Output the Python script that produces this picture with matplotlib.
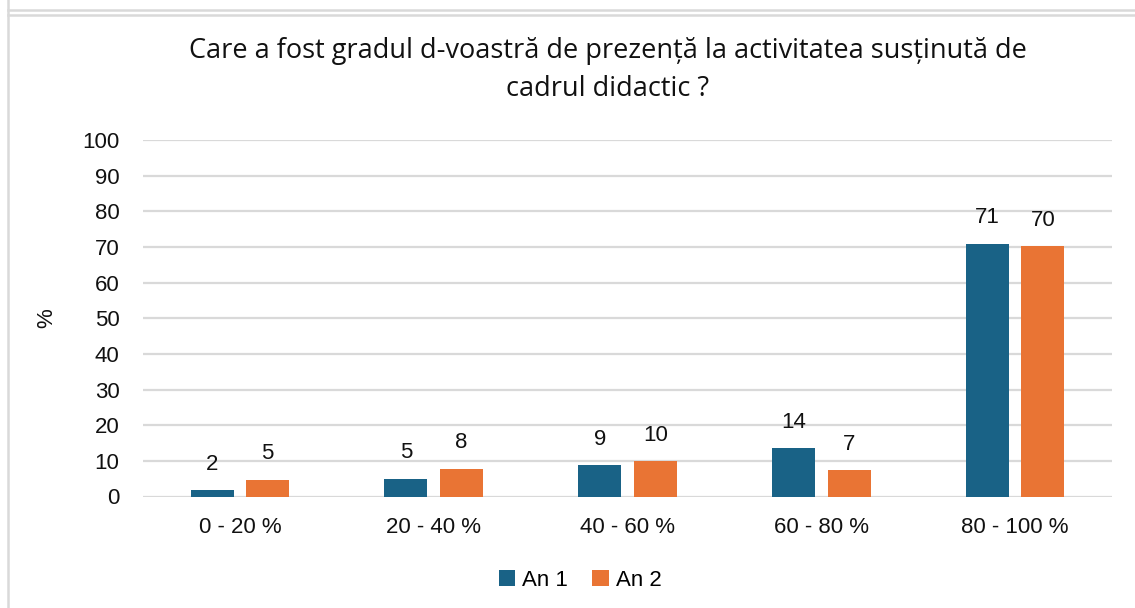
import matplotlib.pyplot as plt
import numpy as np
from matplotlib.lines import Line2D

# Data
categories = ["0 - 20 %", "20 - 40 %", "40 - 60 %", "60 - 80 %", "80 - 100 %"]
an1_values = [1.8, 5.0, 8.7, 13.6, 70.9]
an2_values = [4.7, 7.8, 10.0, 7.3, 70.3]
series_names = ["An 1", "An 2"]
yticks = [0, 10, 20, 30, 40, 50, 60, 70, 80, 90, 100]
title_lines = ["Care a fost gradul d-voastră de prezență la activitatea susținută de",
               "cadrul didactic ?"]

W, H = 1135, 608
fig = plt.figure(figsize=(W / 100, H / 100), dpi=100)
plt.rcParams['font.family'] = ['Liberation Sans', 'DejaVu Sans']

# Axes placement (pixels measured on the reference)
left, right, bottom, top = 143, 1112, 496.5, 140
ax = fig.add_axes([left / W, 1 - bottom / H, (right - left) / W, (bottom - top) / H])

color1 = "#196286"
color2 = "#e97434"
text_color = "#111111"
x = np.arange(len(categories))
width = 0.222
offset = 0.143

bars1 = ax.bar(x - offset, an1_values, width, color=color1, label=series_names[0], zorder=3)
bars2 = ax.bar(x + offset, an2_values, width, color=color2, label=series_names[1], zorder=3)

# Value labels
for bars in (bars1, bars2):
    for b in bars:
        ax.annotate(f"{b.get_height():.0f}", (b.get_x() + b.get_width() / 2, b.get_height()),
                    xytext=(0, 11), textcoords="offset points", ha="center", va="bottom",
                    fontsize=16, color=text_color)

ax.set_ylim(0, 100)
ax.set_xlim(-0.5, len(categories) - 0.5)
ax.set_yticks(yticks)
ax.set_xticks(x)
ax.set_xticklabels(categories)
ax.tick_params(axis="both", length=0, labelsize=16, colors=text_color)
ax.tick_params(axis="y", pad=17)
ax.tick_params(axis="x", pad=15)
ax.grid(axis="y", color="#d9d9d9", linewidth=1.6, zorder=0)
for s in ax.spines.values():
    s.set_visible(False)
ax.set_ylabel("%", fontsize=16, color=text_color, labelpad=18)

# Title (two lines, as in reference)
fig.text(608 / W, 1 - 51 / H, title_lines[0], ha="center", va="center",
         fontsize=19.5, color=text_color, family=["Open Sans", "DejaVu Sans"])
fig.text(608 / W, 1 - 89 / H, title_lines[1], ha="center", va="center",
         fontsize=19.5, color=text_color, family=["Open Sans", "DejaVu Sans"])

# Legend
fig.legend(handles=[bars1, bars2], labels=series_names, loc="center",
           bbox_to_anchor=(580 / W, 1 - 580 / H), ncol=2, frameon=False,
           fontsize=16, handlelength=0.75, handleheight=0.75, handletextpad=0.3,
           columnspacing=1.1)

# Frame lines of the surrounding panel
frame_color = "#d9d9d9"
fig.add_artist(Line2D([7.5 / W, 7.5 / W], [0, 1], transform=fig.transFigure,
                      color=frame_color, linewidth=1.8))
fig.add_artist(Line2D([7.5 / W, 1], [1 - 9.5 / H, 1 - 9.5 / H], transform=fig.transFigure,
                      color=frame_color, linewidth=1.8))
fig.add_artist(Line2D([7.5 / W, 1], [1 - 15 / H, 1 - 15 / H], transform=fig.transFigure,
                      color=frame_color, linewidth=1.8))

fig.savefig("out.png", dpi=100)
